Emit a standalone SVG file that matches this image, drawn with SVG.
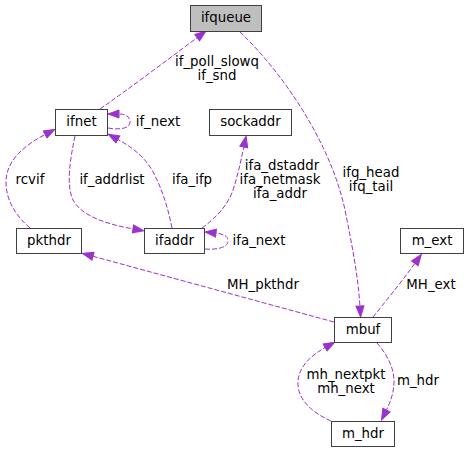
<svg xmlns="http://www.w3.org/2000/svg" width="469" height="453" viewBox="0 0 469 453">
<defs>
<style>
.node rect{fill:#ffffff;stroke:#404040;stroke-width:1}
.node.root rect{fill:#bfbfbf}
text{font-family:"DejaVu Sans",sans-serif;font-size:13.33px;fill:#000;text-anchor:middle}
.edges path{fill:none;stroke:#9a32cd;stroke-width:1;stroke-dasharray:5,2;marker-end:url(#arr)}
</style>
<marker id="arr" markerUnits="userSpaceOnUse" markerWidth="13" markerHeight="10" refX="1" refY="4" orient="auto" overflow="visible">
<path d="M0,0 L11,4 L0,8 z" fill="#9a32cd" stroke="#9a32cd" stroke-width="1"/>
</marker>
</defs>
<g class="edges" id="edges">
<path d="M100,109 C130,88 170,58 198,37"/>
<path d="M240,32 C280,70 330,140 345,210 C352,245 358,275 360,307"/>
<path d="M108,128 C118,130 130,129 130,122 C130,116 125,114 118,114"/>
<path d="M30,228 C15,215 6,200 6,182 C6,160 25,145 46,134"/>
<path d="M75,136 C70,160 66,185 73,200 C82,217 110,225 134,229"/>
<path d="M172,228 C168,208 162,188 152,170 C143,155 130,146 117,139"/>
<path d="M202,228 C216,218 228,205 233,190 C238,175 241,160 244,146"/>
<path d="M205,249 C215,250 228,248 228,241 C228,236 224,234 215,233"/>
<path d="M334,322 L92,256"/>
<path d="M373,317 C385,302 400,284 415.5,262.5"/>
<path d="M331,421 C315,414 299,402 298,385 C297,368 310,356 326,347"/>
<path d="M377,343 C386,353 394,367 394,381 C394,392 391,401 386,411"/>
</g>
<g id="edge-labels">
<text x="217" y="66">if_poll_slowq</text>
<text x="217" y="80">if_snd</text>
<text x="371" y="177">ifq_head</text>
<text x="371" y="191">ifq_tail</text>
<text x="158" y="126">if_next</text>
<text x="30" y="184">rcvif</text>
<text x="112" y="184">if_addrlist</text>
<text x="192" y="184">ifa_ifp</text>
<text x="282" y="170">ifa_dstaddr</text>
<text x="280" y="184">ifa_netmask</text>
<text x="280" y="198">ifa_addr</text>
<text x="259" y="245">ifa_next</text>
<text x="263" y="289">MH_pkthdr</text>
<text x="431" y="289">MH_ext</text>
<text x="346" y="379">mh_nextpkt</text>
<text x="346" y="393">mh_next</text>
<text x="418" y="385">m_hdr</text>
</g>
<g id="ifqueue" class="node root"><rect x="190.5" y="5.5" width="71" height="26"/><text x="226" y="22">ifqueue</text></g>
<g id="ifnet" class="node"><rect x="55.5" y="109.5" width="52" height="26"/><text x="81.5" y="126">ifnet</text></g>
<g id="sockaddr" class="node"><rect x="209.5" y="109.5" width="82" height="26"/><text x="250.5" y="126">sockaddr</text></g>
<g id="pkthdr" class="node"><rect x="16.5" y="228.5" width="65" height="25"/><text x="49" y="245">pkthdr</text></g>
<g id="ifaddr" class="node"><rect x="144.5" y="228.5" width="60" height="25"/><text x="174.5" y="245">ifaddr</text></g>
<g id="m_ext" class="node"><rect x="400.5" y="228.5" width="63" height="25"/><text x="432" y="245">m_ext</text></g>
<g id="mbuf" class="node"><rect x="334.5" y="317.5" width="57" height="25"/><text x="363" y="334">mbuf</text></g>
<g id="m_hdr" class="node"><rect x="331.5" y="421.5" width="63" height="25"/><text x="363" y="438">m_hdr</text></g>
</svg>
